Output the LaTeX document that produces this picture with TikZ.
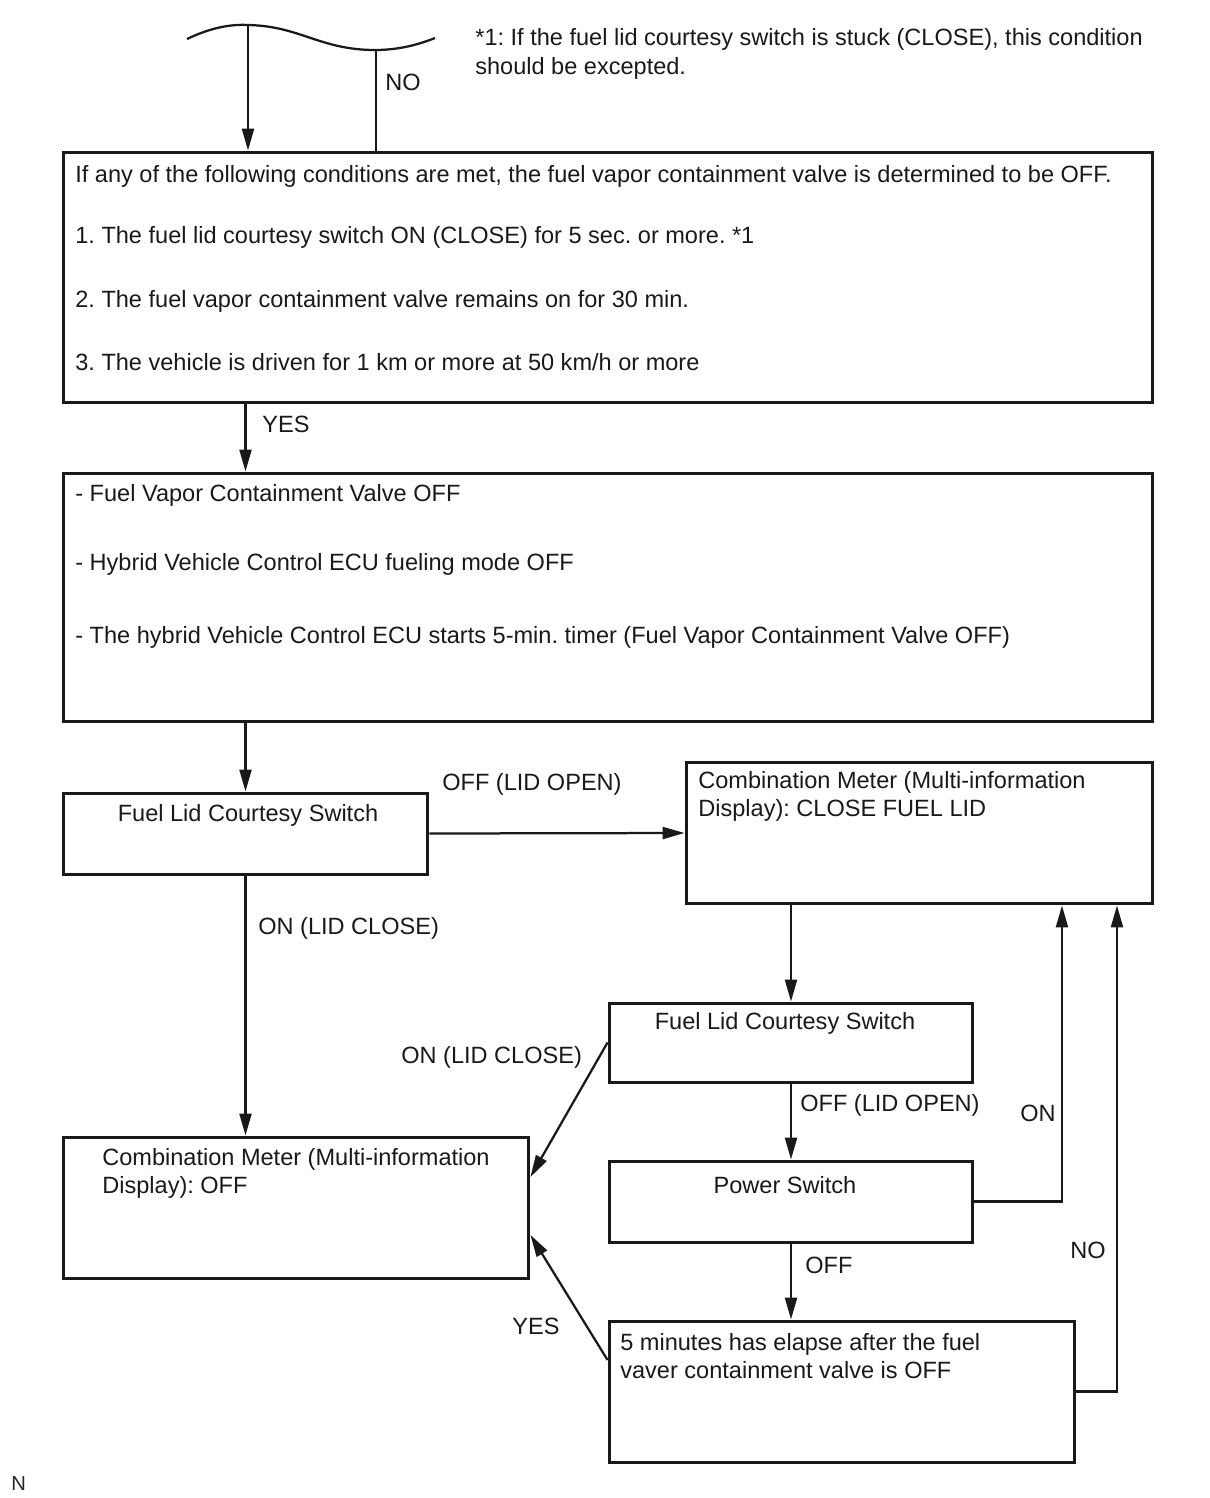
\documentclass[tikz,border=0pt]{standalone}
\usepackage{fontspec}
\setmainfont{Liberation Sans}
\usetikzlibrary{arrows.meta, positioning}
\frenchspacing

\newcommand{\fsz}{\fontsize{13.4}{16}\selectfont}

\tikzset{
  box/.style={draw=black!90, line width=0.06cm, rectangle, inner sep=0pt},
  txt/.style={anchor=base west, inner sep=0pt, font=\fsz, text=black!90},
  ctxt/.style={anchor=base, inner sep=0pt, font=\fsz, text=black!90},
  arr/.style={-{Triangle[length=0.44cm,width=0.24cm]}, line width=0.045cm, draw=black!90},
  ln/.style={line width=0.045cm, draw=black!90},
}

\begin{document}
\begin{tikzpicture}[x=0.02cm, y=-0.02cm]
\useasboundingbox (0,0) rectangle (1210,1498);

% top break
\draw[ln] (187,39) .. controls (210,28) and (230,24) .. (248,25)
  .. controls (300,26) and (320,50) .. (375,50)
  .. controls (400,50) and (420,44) .. (435,38);
\coordinate (w1) at (248,25);
\coordinate (w2) at (376,50);

\node[txt] (note1) at (475,45) {*1: If the fuel lid courtesy switch is stuck (CLOSE), this condition};
\node[txt] (note2) at (475,74) {should be excepted.};

% boxes
\node[box, minimum width=21.8cm, minimum height=5.02cm] (b1) at (608,277.5) {};
\node[box, minimum width=21.8cm, minimum height=4.98cm] (b2) at (608,597.5) {};
\node[box, minimum width=7.3cm, minimum height=1.62cm] (b3) at (245.5,833.5) {};
\node[box, minimum width=9.34cm, minimum height=2.84cm] (b4) at (919.5,833) {};
\node[box, minimum width=9.32cm, minimum height=2.82cm] (b5) at (296,1207.5) {};
\node[box, minimum width=7.28cm, minimum height=1.58cm] (b6) at (791,1042.5) {};
\node[box, minimum width=7.28cm, minimum height=1.62cm] (b7) at (791,1201.5) {};
\node[box, minimum width=9.32cm, minimum height=2.82cm] (b8) at (842,1391.5) {};

% box texts
\node[txt] (c0) at (75,182) {If any of the following conditions are met, the fuel vapor containment valve is determined to be OFF.};
\node[txt] (c1) at (75,243) {1. The fuel lid courtesy switch ON (CLOSE) for 5 sec. or more. *1};
\node[txt] (c2) at (75,307) {2. The fuel vapor containment valve remains on for 30 min.};
\node[txt] (c3) at (75,370) {3. The vehicle is driven for 1 km or more at 50 km/h or more};

\node[txt] (s1) at (75,501) {- Fuel Vapor Containment Valve OFF};
\node[txt] (s2) at (75,570) {- Hybrid Vehicle Control ECU fueling mode OFF};
\node[txt] (s3) at (75,643) {- The hybrid Vehicle Control ECU starts 5-min. timer (Fuel Vapor Containment Valve OFF)};

\node[ctxt] (t3) at (248,821) {Fuel Lid Courtesy Switch};
\node[txt] (t4a) at (698,788) {Combination Meter (Multi-information};
\node[txt] (t4b) at (698,816) {Display): CLOSE FUEL LID};
\node[txt] (t5a) at (102,1165) {Combination Meter (Multi-information};
\node[txt] (t5b) at (102,1193) {Display): OFF};
\node[ctxt] (t6) at (785,1029) {Fuel Lid Courtesy Switch};
\node[ctxt] (t7) at (785,1193) {Power Switch};
\node[txt] (t8a) at (620,1350) {5 minutes has elapse after the fuel};
\node[txt] (t8b) at (620,1378) {vaver containment valve is OFF};

% connectors
\draw[arr] (w1) -- (b1.north -| w1);
\draw[ln] (w2) -- (b1.north -| w2);
\draw[arr] (b1.south -| b3) -- (b2.north -| b3);
\draw[arr] (b2.south -| b3) -- (b3.north);
\draw[arr] (b3.east) -- (b4.west);
\draw[arr] (b3.south) -- (b5.north -| b3);
\draw[arr] (b4.south -| b6) -- (b6.north);
\draw[arr] (b6.west) -- ([yshift=0.61cm]b5.east);
\draw[arr] (b6.south) -- (b7.north);
\draw[arr] (b7.south) -- (b8.north -| b7);
\draw[arr] (b7.east) -| ([xshift=2.85cm]b4.south);
\draw[arr] (b8.east) -| ([xshift=3.95cm]b4.south);
\draw[arr] ([yshift=0.63cm]b8.west) -- ([yshift=-0.55cm]b5.east);

% labels
\node[txt] (no1) at (385,90) {NO};
\node[txt] (yes1) at (262,432) {YES};
\node[txt] (off1) at (442,790) {OFF (LID OPEN)};
\node[txt] (on1) at (258,934) {ON (LID CLOSE)};
\node[txt] (on2) at (401,1063) {ON (LID CLOSE)};
\node[txt] (off2) at (800,1111) {OFF (LID OPEN)};
\node[txt] (on3) at (1020,1121) {ON};
\node[txt] (off3) at (805,1273) {OFF};
\node[txt] (no2) at (1070,1258) {NO};
\node[txt] (yes2) at (512,1334) {YES};
\node[anchor=base west, inner sep=0pt, font=\fontsize{11.5}{13}\selectfont, text=black!85] (n) at (11,1490) {N};
\end{tikzpicture}
\end{document}
